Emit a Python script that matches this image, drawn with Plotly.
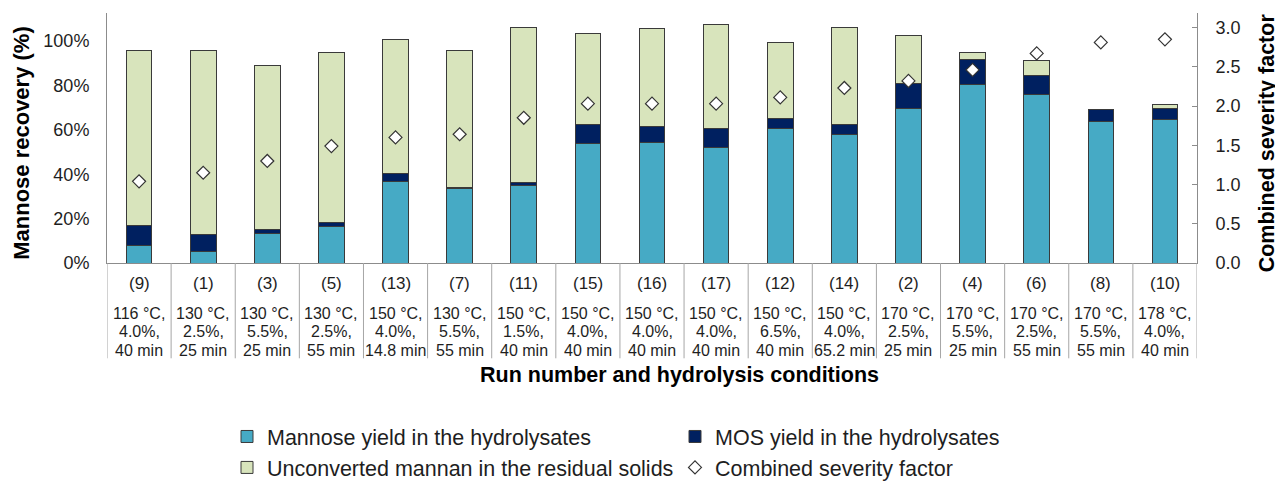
import plotly.graph_objects as go

runs = ["(9)", "(1)", "(3)", "(5)", "(13)", "(7)", "(11)", "(15)", "(16)",
        "(17)", "(12)", "(14)", "(2)", "(4)", "(6)", "(8)", "(10)"]
temps = ["116 °C,", "130 °C,", "130 °C,", "130 °C,", "150 °C,", "130 °C,", "150 °C,",
         "150 °C,", "150 °C,", "150 °C,", "150 °C,", "150 °C,", "170 °C,", "170 °C,",
         "170 °C,", "170 °C,", "178 °C,"]
acids = ["4.0%,", "2.5%,", "5.5%,", "2.5%,", "4.0%,", "5.5%,", "1.5%,", "4.0%,", "4.0%,",
         "4.0%,", "6.5%,", "4.0%,", "2.5%,", "5.5%,", "2.5%,", "5.5%,", "4.0%,"]
times = ["40 min", "25 min", "25 min", "55 min", "14.8 min", "55 min", "40 min", "40 min",
         "40 min", "40 min", "40 min", "65.2 min", "25 min", "25 min", "55 min", "55 min",
         "40 min"]

mannose = [8.0, 5.4, 13.1, 16.4, 36.8, 33.5, 35.0, 53.9, 54.2, 52.1, 60.8, 57.7,
           69.4, 80.2, 76.1, 63.7, 64.7]
mos = [8.8, 7.5, 1.9, 1.9, 3.3, 0.7, 1.4, 8.6, 7.4, 8.6, 4.5, 4.5,
       11.5, 11.6, 8.4, 5.4, 5.1]
unconverted = [79.0, 82.8, 74.1, 76.7, 60.5, 61.6, 69.5, 40.7, 44.0, 46.8, 34.2, 44.0,
               21.4, 3.2, 6.8, 0.2, 1.7]
csf = [1.04, 1.15, 1.30, 1.49, 1.60, 1.64, 1.85, 2.03, 2.03, 2.03, 2.11, 2.23,
       2.32, 2.46, 2.67, 2.81, 2.85]

FONT = "Liberation Sans, Arial, sans-serif"
TXT = "#1e1e1e"
AX = "#8c8c8c"
OUT = "#3a3a3a"

# The page body adds an 8px offset, so the figure is 8px smaller and shifted.
OFF = 8
W, H = 1283 - OFF, 481 - OFF
BASE = 262.7            # screen y of the x axis
PLOT_H = 250.0          # plot area height in px

fig = go.Figure()
fig.add_trace(go.Bar(x=runs, y=mannose, name="Mannose yield in the hydrolysates",
                     marker=dict(color="#46AAC5", line=dict(color=OUT, width=1))))
fig.add_trace(go.Bar(x=runs, y=mos, name="MOS yield in the hydrolysates",
                     marker=dict(color="#002060", line=dict(color=OUT, width=1))))
fig.add_trace(go.Bar(x=runs, y=unconverted, name="Unconverted mannan in the residual solids",
                     marker=dict(color="#D8E4BC", line=dict(color=OUT, width=1))))
fig.add_trace(go.Scatter(x=runs, y=csf, yaxis="y2", mode="markers",
                         name="Combined severity factor",
                         marker=dict(symbol="diamond", size=10, color="white",
                                     line=dict(color="#333333", width=1.2))))

shapes = []
for i in range(len(runs) + 1):
    shapes.append(dict(type="line", xref="x", yref="paper", x0=i - 0.5, x1=i - 0.5,
                       y0=0, y1=-(358 - BASE) / PLOT_H,
                       line=dict(color="#a6a6a6", width=1)))

annotations = []
for r, t, a, m in zip(runs, temps, acids, times):
    for txt, ypix, sz in ((r, 283, 17), (t, 313, 16), (a, 331.5, 16), (m, 350, 16)):
        annotations.append(dict(x=r, xref="x", y=0, yref="paper", yanchor="middle",
                                yshift=-(ypix - BASE), text=txt, showarrow=False,
                                font=dict(size=sz, color=TXT, family=FONT)))

annotations.append(dict(x=0, xref="paper", xshift=22 - 107, xanchor="center",
                        y=(BASE - 142.5) / PLOT_H, yref="paper", yanchor="middle",
                        text="<b>Mannose recovery (%)</b>", textangle=-90, showarrow=False,
                        font=dict(size=22, color="#000", family=FONT)))
annotations.append(dict(x=1, xref="paper", xshift=1267 - 1197, xanchor="center",
                        y=(BASE - 143) / PLOT_H, yref="paper", yanchor="middle",
                        text="<b>Combined severity factor</b>", textangle=-90, showarrow=False,
                        borderpad=0,
                        font=dict(size=21.5, color="#000", family=FONT)))
annotations.append(dict(x=(679 - 107) / 1090, xref="paper", xanchor="center",
                        y=0, yref="paper", yanchor="middle", yshift=-(375 - BASE),
                        text="<b>Run number and hydrolysis conditions</b>", showarrow=False,
                        font=dict(size=21.5, color="#000", family=FONT)))

fig.update_layout(
    width=W, height=H,
    margin=dict(l=107 - OFF, r=1283 - 1197, t=12.7 - OFF, b=481 - BASE, pad=0,
                autoexpand=False),
    paper_bgcolor="white", plot_bgcolor="white",
    barmode="stack", bargap=0.6,
    font=dict(family=FONT, color=TXT),
    xaxis=dict(type="category", range=[-0.5, len(runs) - 0.5], showticklabels=False,
               ticks="", showline=True, linecolor=AX, linewidth=1, showgrid=False,
               zeroline=False, automargin=False),
    yaxis=dict(range=[0, 112.6], tickvals=[0, 20, 40, 60, 80, 100],
               ticktext=["0%", "20%", "40%", "60%", "80%", "100%"],
               showline=True, linecolor=AX, linewidth=1, showgrid=False, zeroline=False,
               ticks="", tickfont=dict(size=18, color=TXT), ticklabelstandoff=13,
               automargin=False),
    yaxis2=dict(range=[0, 3.185], overlaying="y", side="right",
                tickvals=[0, 0.5, 1, 1.5, 2, 2.5, 3],
                tickformat=".1f", showline=True, linecolor=AX, linewidth=1, showgrid=False,
                zeroline=False, ticks="inside", ticklen=5, tickcolor=AX,
                tickfont=dict(size=18, color=TXT), ticklabelstandoff=14, automargin=False),
    legend=dict(orientation="h", xref="container", x=(227 - OFF) / W, xanchor="left",
                yref="container", y=1 - (416 - OFF) / H, yanchor="top",
                entrywidth=403, itemwidth=30,
                font=dict(size=21.5, color=TXT, family=FONT), traceorder="normal",
                bgcolor="rgba(0,0,0,0)"),
    shapes=shapes,
    annotations=annotations,
)

fig.write_html("out.html")
